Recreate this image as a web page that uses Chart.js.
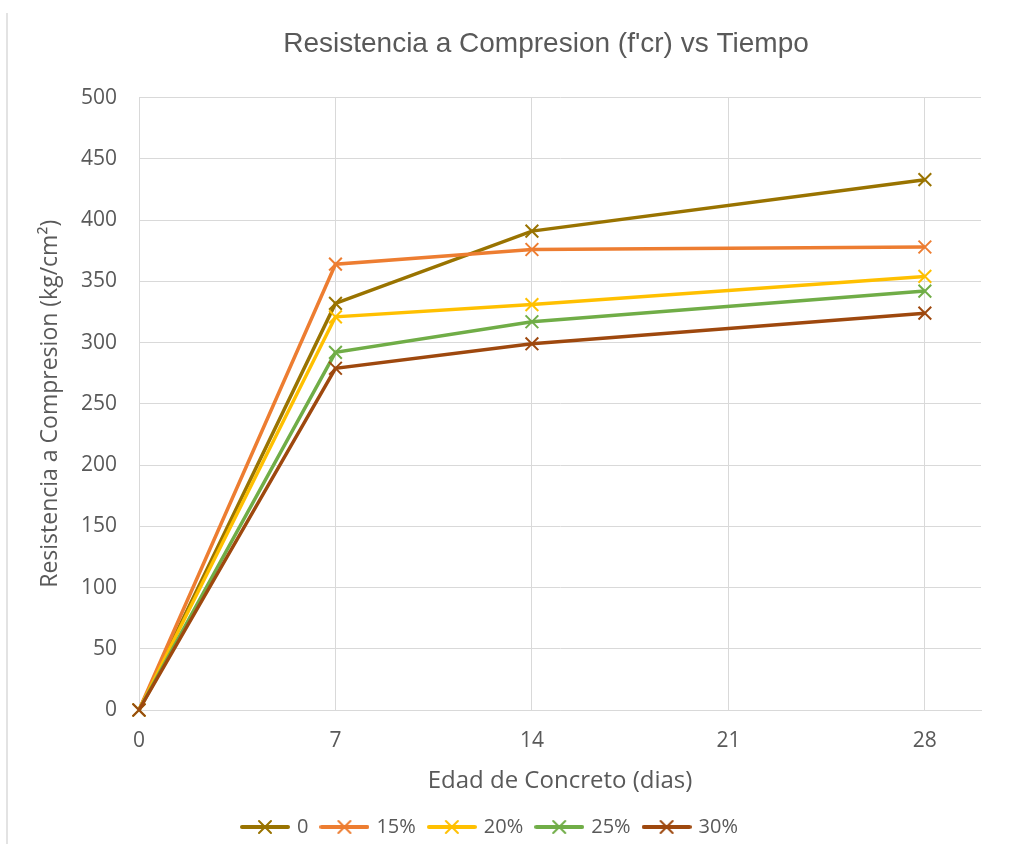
<!DOCTYPE html>
<html>
<head>
<meta charset="utf-8">
<title>Resistencia a Compresion</title>
<script src="https://cdn.jsdelivr.net/npm/chart.js@4.4.1/dist/chart.umd.min.js"></script>
<style>
  html, body { margin: 0; padding: 0; background: #ffffff; }
  #wrap { position: relative; width: 1009px; height: 844px; }
  #edge { position: absolute; left: 6px; top: 13px; bottom: 0; width: 2px; background: #e3e3e3; }
  canvas { position: absolute; left: 0; top: 0; }
</style>
</head>
<body>
<div id="wrap">
  <div id="edge"></div>
  <canvas id="chart" width="1009" height="844"></canvas>
</div>
<script>
// Edad de ensayo (dias)
const dias = [0, 7, 14, 28];

// f'cr por porcentaje de reemplazo (kg/cm2)
const serie0 = [0, 332, 391, 433];
const serie15 = [0, 364, 376, 378];
const serie20 = [0, 321, 331, 354];
const serie25 = [0, 292, 317, 342];
const serie30 = [0, 279, 299, 324];

const nombres = ['0', '15%', '20%', '25%', '30%'];
const colores = ['#997300', '#ed7d31', '#ffc000', '#70ad47', '#9e480e'];
const series = [serie0, serie15, serie20, serie25, serie30];

const textColor = '#595959';
const gridColor = '#d9d9d9';

// small line + X symbol used in the legend
function legendSymbol(color) {
    const c = document.createElement('canvas');
    c.width = 50;
    c.height = 16;
    const g = c.getContext('2d');
    g.strokeStyle = color;
    g.lineCap = 'round';
    g.lineWidth = 4;
    g.beginPath();
    g.moveTo(2, 8);
    g.lineTo(48, 8);
    g.stroke();
    g.lineWidth = 2;
    g.beginPath();
    g.moveTo(19, 2); g.lineTo(31, 14);
    g.moveTo(31, 2); g.lineTo(19, 14);
    g.stroke();
    return c;
}

// nudge the title box so the heading sits a bit left of the plot centre
const titleShift = {
    id: 'titleShift',
    afterLayout(chart) {
        const t = chart.titleBlock;
        if (t) {
            t.left = chart.chartArea.left - 28;
            t.right = chart.chartArea.right;
        }
    }
};

const datasets = series.map((vals, i) => ({
    label: nombres[i],
    data: dias.map((d, j) => ({ x: d, y: vals[j] })),
    borderColor: colores[i],
    backgroundColor: colores[i],
    borderWidth: 3.5,
    pointStyle: 'crossRot',
    pointRadius: 9,
    pointBorderWidth: 2,
    pointBorderColor: colores[i],
    tension: 0,
    clip: false,
    order: series.length - i   // later series drawn on top
}));

new Chart(document.getElementById('chart'), {
    type: 'line',
    data: { datasets: datasets },
    plugins: [titleShift],
    options: {
        responsive: false,
        animation: false,
        layout: { padding: { left: 0, right: 28, top: 0, bottom: -3 } },
        plugins: {
            title: {
                display: true,
                fullSize: false,
                text: "Resistencia a Compresion (f'cr) vs Tiempo",
                color: textColor,
                font: { family: '"Liberation Sans", Arial, sans-serif', size: 28, weight: 'normal' },
                padding: { top: 27, bottom: 37 }
            },
            legend: {
                position: 'bottom',
                labels: {
                    usePointStyle: true,
                    pointStyleWidth: 44,
                    padding: 14,
                    color: textColor,
                    font: { family: '"Open Sans", sans-serif', size: 20 },
                    generateLabels: function(chart) {
                        return chart.data.datasets.map((ds, i) => ({
                            text: ds.label,
                            fontColor: textColor,
                            pointStyle: legendSymbol(ds.borderColor),
                            strokeStyle: ds.borderColor,
                            fillStyle: ds.borderColor,
                            lineWidth: 0,
                            hidden: !chart.isDatasetVisible(i),
                            datasetIndex: i
                        }));
                    }
                }
            },
            tooltip: { enabled: false }
        },
        scales: {
            x: {
                type: 'linear',
                min: 0,
                max: 30,
                afterBuildTicks: function(scale) {
                    scale.ticks = [0, 7, 14, 21, 28].map(v => ({ value: v }));
                },
                afterFit: function(scale) { scale.height = 93; },
                grid: { color: gridColor, lineWidth: 1, drawTicks: false },
                border: { color: gridColor, width: 1 },
                ticks: {
                    color: textColor,
                    padding: 18,
                    font: { family: '"Open Sans", sans-serif', size: 21 }
                },
                title: {
                    display: true,
                    text: 'Edad de Concreto (dias)',
                    color: textColor,
                    font: { family: '"Open Sans", sans-serif', size: 24 },
                    padding: { top: 0, bottom: 7 }
                }
            },
            y: {
                min: 0,
                max: 500,
                ticks: {
                    stepSize: 50,
                    color: textColor,
                    padding: 22,
                    font: { family: '"Open Sans", sans-serif', size: 21 }
                },
                afterFit: function(scale) { scale.width = 139; },
                grid: { color: gridColor, lineWidth: 1, drawTicks: false },
                border: { color: gridColor, width: 1 },
                title: {
                    display: true,
                    text: 'Resistencia a Compresion (kg/cm²)',
                    color: textColor,
                    font: { family: '"Open Sans", sans-serif', size: 23 },
                    padding: { top: 37, bottom: 0 }
                }
            }
        }
    }
});
</script>
</body>
</html>
